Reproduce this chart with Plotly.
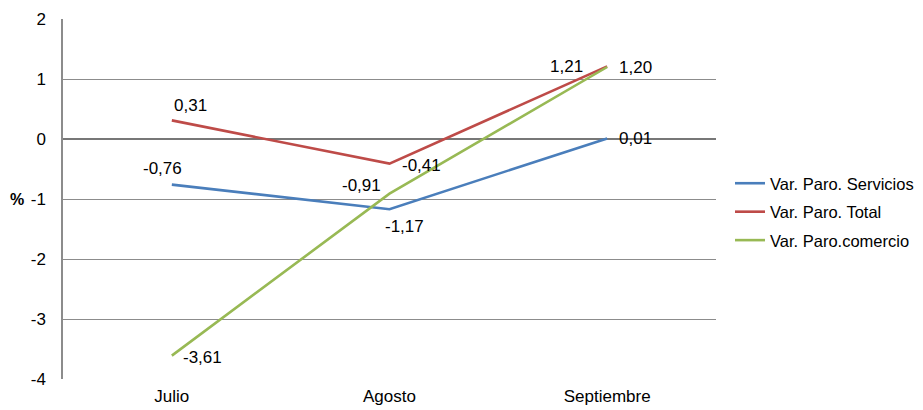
import plotly.graph_objects as go

meses = ["Julio", "Agosto", "Septiembre"]
servicios = [-0.76, -1.17, 0.01]
total = [0.31, -0.41, 1.21]
comercio = [-3.61, -0.91, 1.20]

y_ticks = [-4, -3, -2, -1, 0, 1, 2]

series = [
    ("Var. Paro. Servicios", servicios, "#4A7EBB", [(-9, 16), (15, -17), (28, 0)]),
    ("Var. Paro. Total", total, "#BE4B48", [(19, 15), (32, -2), (-41, 0)]),
    ("Var. Paro.comercio", comercio, "#98B954", [(31, -2), (-28, 8), (28, 0)]),
]

fig = go.Figure()

for i, (name, vals, color, shifts) in enumerate(series):
    fig.add_trace(go.Scatter(
        x=meses, y=vals, mode="lines", name=name,
        legendgroup=str(i),
        line=dict(color=color, width=2.6),
    ))
    for m, v, (dx, dy) in zip(meses, vals, shifts):
        fig.add_annotation(
            x=m, y=v, text=f"{v:.2f}".replace(".", ","),
            showarrow=False, xshift=dx, yshift=dy,
            font=dict(size=17, color="#000000"),
        )

# eje y: "%" horizontal a la izquierda
fig.add_annotation(
    text="<b>%</b>", xref="paper", yref="paper",
    x=-0.07, y=0.5, xanchor="center", yanchor="middle",
    showarrow=False, font=dict(size=16, color="#000000"),
)

# la página tiene 8px de margen en el body
fig.update_layout(
    width=915, height=402,
    margin=dict(l=55, r=207, t=11, b=31),
    paper_bgcolor="white", plot_bgcolor="white",
    font=dict(family="Liberation Sans, Arial, sans-serif", size=17, color="#000000"),
    legend=dict(
        xref="container", yref="container",
        x=722 / 915, y=(402 - 204) / 402, xanchor="left", yanchor="middle",
        tracegroupgap=4, font=dict(size=16.5),
    ),
)

fig.update_xaxes(
    type="category", range=[-0.5, 2.5], automargin=False,
    showgrid=False, showline=False, zeroline=False,
    ticks="", ticklabelstandoff=5,
)
fig.update_yaxes(
    range=[-4, 2], tickvals=y_ticks, ticktext=[str(t) for t in y_ticks],
    automargin=False,
    showgrid=True, gridcolor="#8C8C8C", gridwidth=1,
    zeroline=True, zerolinecolor="#777777", zerolinewidth=1.5,
    showline=True, linecolor="#8C8C8C", linewidth=1.5,
    ticks="", ticklabelstandoff=12,
)

fig.write_html("out.html")
